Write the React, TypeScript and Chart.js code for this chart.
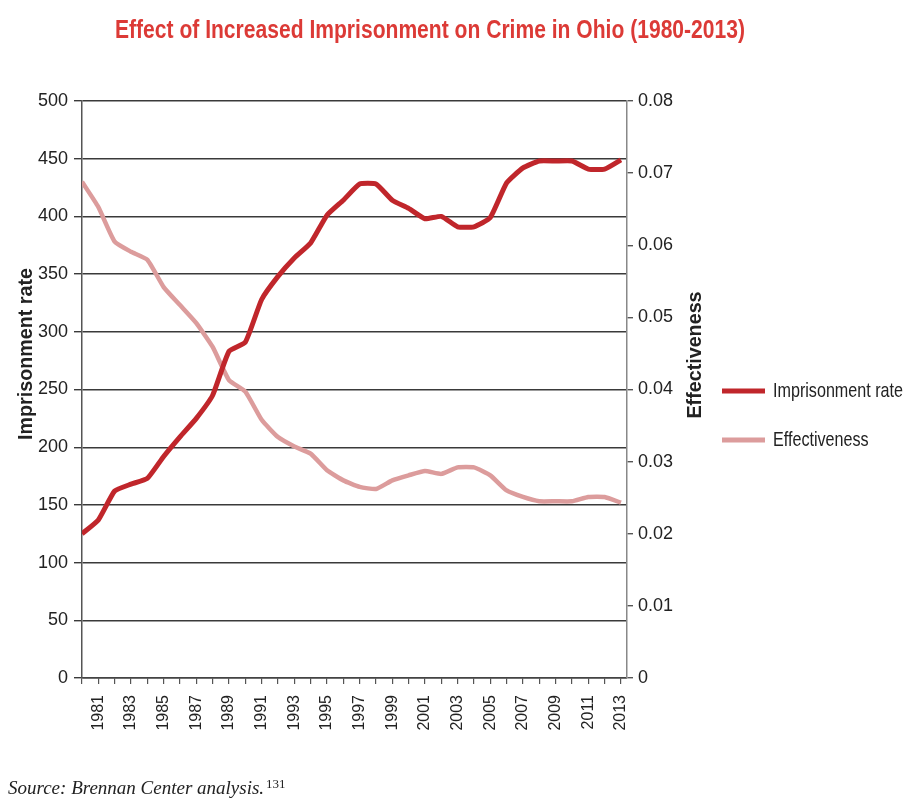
import React, { useEffect, useRef } from "react";
import { Chart, registerables } from "chart.js";

Chart.register(...registerables);

const TITLE = "Effect of Increased Imprisonment on Crime in Ohio (1980-2013)";
const LEFT_AXIS_TITLE = "Imprisonment rate";
const RIGHT_AXIS_TITLE = "Effectiveness";
const SERIES_NAMES = ["Imprisonment rate", "Effectiveness"];

const years = [
  1980, 1981, 1982, 1983, 1984, 1985, 1986, 1987, 1988, 1989, 1990, 1991,
  1992, 1993, 1994, 1995, 1996, 1997, 1998, 1999, 2000, 2001, 2002, 2003,
  2004, 2005, 2006, 2007, 2008, 2009, 2010, 2011, 2012, 2013,
];

const imprisonmentRate = [
  125, 137, 162, 168, 173, 192, 209, 225, 245, 283, 291, 328, 348, 364, 377,
  401, 414, 428, 428, 414, 407, 398, 400, 391, 391, 399, 429, 442, 448, 448,
  448, 441, 441, 449,
];

const effectiveness = [
  0.0688, 0.0653, 0.0605, 0.0591, 0.058, 0.0542, 0.0517, 0.0492, 0.0459,
  0.0413, 0.0397, 0.0358, 0.0334, 0.0321, 0.0311, 0.0288, 0.0274, 0.0265,
  0.0262, 0.0274, 0.0281, 0.0287, 0.0283, 0.0292, 0.0292, 0.0281, 0.026,
  0.0251, 0.0245, 0.0245, 0.0245, 0.0251, 0.0251, 0.0243,
];

const leftTicks = { min: 0, max: 500, step: 50 };
const rightTicks = { min: 0, max: 0.08, step: 0.01 };

const RED = "#c0262b";
const PINK = "#dc9c9c";
const TITLE_RED = "#dc3a36";
const TEXT = "#222222";
const SANS = '"Liberation Sans", Arial, sans-serif';

function drawCondensed(
  ctx: CanvasRenderingContext2D,
  text: string,
  x: number,
  y: number,
  font: string,
  targetWidth: number,
  align: "left" | "center",
  rotate = false
) {
  ctx.save();
  ctx.font = font;
  const w = ctx.measureText(text).width;
  const sx = Math.min(1, targetWidth / w);
  ctx.translate(x, y);
  if (rotate) ctx.rotate(-Math.PI / 2);
  ctx.scale(sx, 1);
  ctx.textAlign = align;
  ctx.textBaseline = "middle";
  ctx.fillText(text, 0, 0);
  ctx.restore();
  return sx;
}

const decorPlugin = {
  id: "decor",
  afterDraw(chart: any) {
    const ctx = chart.ctx as CanvasRenderingContext2D;
    ctx.save();

    // Title
    ctx.fillStyle = TITLE_RED;
    drawCondensed(ctx, TITLE, 430, 31, `bold 25px ${SANS}`, 630, "center");

    // Axis titles (both read bottom to top)
    ctx.fillStyle = TEXT;
    const axisFont = `bold 21px ${SANS}`;
    ctx.font = axisFont;
    const leftW = ctx.measureText(LEFT_AXIS_TITLE).width;
    const axisScale = Math.min(1, 172 / leftW);
    const rightW = ctx.measureText(RIGHT_AXIS_TITLE).width * axisScale;
    drawCondensed(ctx, LEFT_AXIS_TITLE, 26, 354, axisFont, 172, "center", true);
    drawCondensed(ctx, RIGHT_AXIS_TITLE, 695, 355, axisFont, rightW, "center", true);

    // Legend
    const items = [
      { label: SERIES_NAMES[0], color: RED, y: 391 },
      { label: SERIES_NAMES[1], color: PINK, y: 440 },
    ];
    const legendFont = `21px ${SANS}`;
    ctx.font = legendFont;
    const legendScale = Math.min(1, 130 / ctx.measureText(SERIES_NAMES[0]).width);
    items.forEach((it) => {
      ctx.strokeStyle = it.color;
      ctx.lineWidth = 5;
      ctx.beginPath();
      ctx.moveTo(722, it.y);
      ctx.lineTo(765, it.y);
      ctx.stroke();
      ctx.fillStyle = TEXT;
      ctx.font = legendFont;
      const w = ctx.measureText(it.label).width * legendScale;
      drawCondensed(ctx, it.label, 773, it.y, legendFont, w, "left");
    });

    ctx.restore();
  },
};

export default function App() {
  const ref = useRef<HTMLCanvasElement | null>(null);

  useEffect(() => {
    if (!ref.current) return;
    const chart = new Chart(ref.current, {
      type: "line",
      data: {
        datasets: [
          {
            label: SERIES_NAMES[0],
            data: years.map((x, i) => ({ x, y: imprisonmentRate[i] })),
            borderColor: RED,
            backgroundColor: RED,
            borderWidth: 5,
            pointRadius: 0,
            tension: 0.15,
            yAxisID: "y",
          },
          {
            label: SERIES_NAMES[1],
            data: years.map((x, i) => ({ x, y: effectiveness[i] })),
            borderColor: PINK,
            backgroundColor: PINK,
            borderWidth: 4.5,
            pointRadius: 0,
            tension: 0.15,
            yAxisID: "y1",
          },
        ],
      },
      options: {
        responsive: false,
        animation: false,
        devicePixelRatio: 1,
        layout: { padding: { top: 101, left: 0, right: 202, bottom: 0 } },
        plugins: {
          legend: { display: false },
          title: { display: false },
          tooltip: { enabled: false },
        },
        scales: {
          x: {
            type: "linear",
            min: years[0],
            max: 2013.37,
            afterFit: (s: any) => {
              s.height = 120;
            },
            ticks: {
              stepSize: 1,
              includeBounds: false,
              autoSkip: false,
              minRotation: 90,
              maxRotation: 90,
              padding: 11,
              color: TEXT,
              font: { family: SANS, size: 16 },
              callback: (v: any) => (Number(v) % 2 === 1 ? String(v) : ""),
            },
            grid: {
              drawOnChartArea: false,
              tickLength: 6,
              color: "#555555",
              lineWidth: 1.2,
            },
            border: { display: true, color: "#444444", width: 1.5 },
          },
          y: {
            position: "left",
            min: leftTicks.min,
            max: leftTicks.max,
            afterFit: (s: any) => {
              s.width = 82;
            },
            ticks: {
              stepSize: leftTicks.step,
              padding: 6,
              color: TEXT,
              font: { family: SANS, size: 18 },
            },
            grid: {
              color: "#3a3a3a",
              lineWidth: 1.4,
              tickLength: 8,
            },
            border: { display: true, color: "#555555", width: 1.5 },
          },
          y1: {
            position: "right",
            min: rightTicks.min,
            max: rightTicks.max,
            afterFit: (s: any) => {
              s.width = 80;
            },
            ticks: {
              stepSize: rightTicks.step,
              padding: 5,
              color: TEXT,
              font: { family: SANS, size: 18 },
              callback: (v: any) => (Number(v) === 0 ? "0" : Number(v).toFixed(2)),
            },
            grid: {
              drawOnChartArea: false,
              tickLength: 6,
              color: "#555555",
              lineWidth: 1.4,
            },
            border: { display: true, color: "#888888", width: 1.5 },
          },
        },
      },
      plugins: [decorPlugin],
    } as any);
    return () => chart.destroy();
  }, []);

  return (
    <div
      style={{
        position: "absolute",
        left: 0,
        top: 0,
        width: 909,
        height: 798,
        background: "#ffffff",
        overflow: "hidden",
      }}
    >
      <canvas ref={ref} width={909} height={798} style={{ display: "block", width: 909, height: 798 }} />
      <div
        style={{
          position: "absolute",
          left: 8,
          top: 774,
          fontFamily: '"Liberation Serif", "DejaVu Serif", serif',
          fontStyle: "italic",
          fontSize: 19,
          color: "#222222",
          whiteSpace: "nowrap",
          lineHeight: "20px",
        }}
      >
        Source: Brennan Center analysis.
        <sup style={{ fontStyle: "normal", fontSize: 13, verticalAlign: "6px", marginLeft: 2 }}>131</sup>
      </div>
    </div>
  );
}
